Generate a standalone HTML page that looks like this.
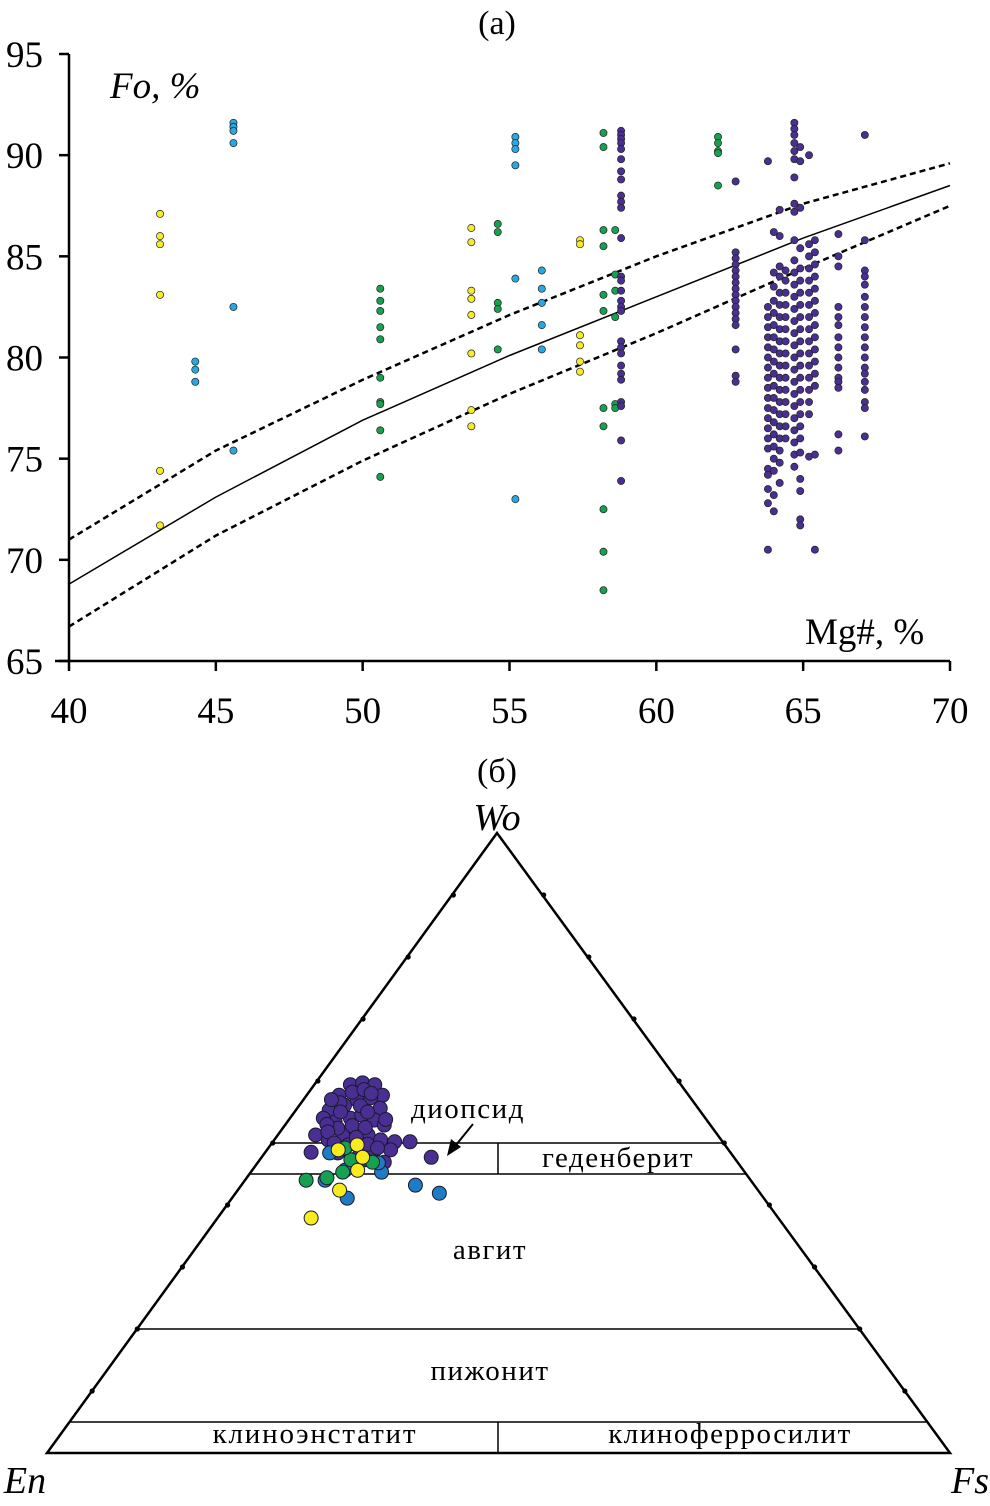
<!DOCTYPE html>
<html><head><meta charset="utf-8">
<style>
html,body{margin:0;padding:0;background:#fff;}
svg{display:block;font-family:"Liberation Serif",serif;}
</style></head>
<body>
<svg id="fig" width="990" height="1506" viewBox="0 0 990 1506" xmlns="http://www.w3.org/2000/svg">
<g id="pa"></g>
<g id="pb"></g>
</svg>
<script>
// ---------- Panel (a) data ----------
const xTicks = [40,45,50,55,60,65,70];
const yTicks = [65,70,75,80,85,90,95];
const curveX = [40,45,50,55,60,65,70];
const curveMid = [68.8,73.1,76.9,80.1,83.0,85.9,88.5];
const curveUp = [71.0,75.4,78.9,82.1,85.0,87.6,89.6];
const curveLow = [66.7,71.2,74.9,78.2,81.2,84.4,87.5];
const yellowCols = [
 {x:43.1, v:[87.1,86.0,85.6,83.1,74.4,71.7]},
 {x:53.7, v:[86.4,85.7,83.3,82.9,82.1,80.2,77.4,76.6]},
 {x:57.4, v:[85.8,85.6,81.1,80.6,79.8,79.3]}
];
const blueCols = [
 {x:44.3, v:[79.8,79.4,78.8]},
 {x:45.6, v:[91.6,91.4,91.2,90.6,82.5,75.4]},
 {x:55.2, v:[90.9,90.6,90.3,89.5,83.9,73.0]},
 {x:56.1, v:[84.3,83.4,82.7,81.6,80.4]}
];
const greenCols = [
 {x:50.6, v:[83.4,82.8,82.3,81.5,80.9,79.0,77.8,77.7,76.4,74.1]},
 {x:54.6, v:[86.6,86.2,82.7,82.4,80.4]},
 {x:58.2, v:[91.1,90.4,86.3,85.5,83.1,82.3,77.5,76.6,72.5,70.4,68.5]},
 {x:58.6, v:[86.3,84.1,83.3,82.0,77.7,77.5]},
 {x:62.1, v:[90.9,90.6,90.2,90.1,88.5]}
];
const purpleCols = [
 {x:58.8, v:[91.2,91.0,90.8,90.6,90.3,89.8,89.2,88.8,88.0,87.7,87.4,85.9,84.0,83.8,83.3,82.8,82.5,82.3,80.8,80.5,80.2,79.6,79.2,78.9,77.8,77.6,75.9,73.9]},
 {x:62.7, v:[88.7,85.2,84.9,84.6,84.3,84.0,83.7,83.4,83.1,82.8,82.5,82.2,81.9,81.6,80.4,79.1,78.8]},
 {x:63.8, v:[89.7,82.5,82.0,81.5,81.0,80.5,80.0,79.5,79.0,78.5,78.0,77.5,77.0,76.5,76.0,75.5,74.5,74.2,73.5,72.8,70.5]},
 {x:64.0, v:[86.2,84.2,83.5,82.8,82.2,81.6,81.0,80.4,79.8,79.2,78.6,78.0,77.4,76.8,76.2,75.6,75.0,74.4,73.2,72.4]},
 {x:64.2, v:[87.3,86.0,84.5,84.0,83.2,82.6,82.0,81.4,80.8,80.2,79.6,79.0,78.4,77.8,77.2,76.6,76.0,75.4,74.8,73.8]},
 {x:64.4, v:[84.3,83.8,83.2,82.6,82.0,81.4,80.8,80.2,79.6,79.0,78.4,77.8,77.2,76.6,76.0]},
 {x:64.7, v:[91.6,91.3,91.0,90.6,90.2,89.8,88.9,87.6,87.2,85.8,84.8,84.2,83.6,83.0,82.4,81.8,81.2,80.6,80.0,79.4,78.8,78.2,77.6,77.0,76.4,75.8,75.2,74.6]},
 {x:64.9, v:[90.4,89.7,87.4,85.4,84.4,83.8,83.2,82.6,82.0,81.4,80.8,80.2,79.6,79.0,78.4,77.8,77.2,76.6,76.0,75.3,74.0,73.4,72.0,71.7]},
 {x:65.2, v:[90.0,85.6,85.0,84.4,83.8,83.2,82.6,82.0,81.4,80.8,80.2,79.6,79.0,78.4,77.8,77.2,75.1]},
 {x:65.4, v:[85.8,85.2,84.6,84.0,83.4,82.8,82.2,81.6,81.0,80.4,79.8,79.2,78.6,75.2,70.5]},
 {x:66.2, v:[86.1,85.0,84.5,82.5,82.0,81.6,81.0,80.5,80.0,79.5,79.0,78.8,78.5,76.2,75.4]},
 {x:67.1, v:[91.0,85.8,84.3,84.0,83.6,83.0,82.5,82.0,81.5,81.0,80.5,80.0,79.5,79.2,78.8,78.4,77.8,77.5,76.1]}
];
// ---------- Panel (b) ternary data: [Wo, Fs] ----------
const triPurple = [[59.4,3.9],[59.7,5.1],[59.4,6.6],[57.7,8.3],[57.7,3.5],[55.3,3.6],[56.1,4.9],[56.9,5.9],[57.3,7.2],[55.6,9.1],[54.0,3.6],[53.4,5.2],[54.0,6.6],[54.5,7.6],[53.7,9.4],[52.9,10.9],[51.3,4.1],[50.5,5.9],[51.3,7.1],[52.1,8.1],[51.3,9.9],[50.5,11.7],[50.2,13.4],[50.2,15.1],[47.7,18.7],[46.9,13.9],[48.1,12.0],[48.9,10.3],[48.5,5.0],[49.7,8.5],[47.3,11.6],[48.9,13.6],[52.4,6.0],[58.2,4.7],
 [58.6,5.8],[58.0,6.9],[56.5,4.2],[56.0,6.7],[55.0,5.0],[55.0,8.0],[53.0,4.5],[52.8,7.4],[52.5,9.0],[51.8,5.2],[50.9,8.8],[49.8,10.6],[49.2,12.0],[48.4,8.0],[47.9,10.6],[50.0,6.8],[57.0,3.0],[53.8,10.6]];
const triBlue = [[48.4,7.1],[41.1,12.7],[45.3,14.4],[43.2,19.2],[41.9,22.5],[44.0,8.8],[45.6,10.2],[46.8,13.3]];
const triGreen = [[44.0,6.7],[44.4,8.8],[45.3,10.1],[46.9,12.6],[47.3,10.0],[49.2,8.4]];
const triYellow = [[37.9,10.3],[42.4,11.2],[45.6,11.6],[49.7,9.5],[47.7,11.1],[48.9,7.8]];

const NS="http://www.w3.org/2000/svg";
function mk(tag,attrs,parent){const e=document.createElementNS(NS,tag);for(const k in attrs)e.setAttribute(k,attrs[k]);parent.appendChild(e);return e;}
function txt(s,attrs,parent){const e=mk('text',attrs,parent);e.textContent=s;return e;}

// ---- Panel a ----
const pa=document.getElementById('pa');
const X0=69,X1=950,Y0=661,Y1=54;
const sx=v=>X0+(v-40)/30*(X1-X0);
const sy=v=>Y0-(v-65)/30*(Y0-Y1);
let t=txt('(a)',{x:497,y:34,'font-size':34,'text-anchor':'middle'},pa);


let ax=mk('line',{x1:55,y1:Y0,x2:X1,y2:Y0,stroke:'#000','stroke-width':2.5},pa);


let ay=mk('line',{x1:X0,y1:Y0,x2:X0,y2:Y1,stroke:'#000','stroke-width':2.5},pa);


xTicks.forEach(v=>{
  const tk=mk('line',{x1:sx(v),y1:Y0,x2:sx(v),y2:Y0+10,stroke:'#000','stroke-width':2.5},pa);
  
  
  const l=txt(String(v),{x:sx(v),y:723,'font-size':37,'text-anchor':'middle'},pa);
  
  
});
yTicks.forEach(v=>{
  const tk=mk('line',{x1:X0-10,y1:sy(v),x2:X0,y2:sy(v),stroke:'#000','stroke-width':2.5},pa);
  
  
  const l=txt(String(v),{x:43,y:sy(v)+13,'font-size':37,'text-anchor':'end'},pa);
  
  
});
t=txt('Fo, %',{x:110,y:98,'font-size':37,'font-style':'italic'},pa);


t=txt('Mg#, %',{x:805,y:644,'font-size':37},pa);


function curve(arr,dash,name){
  const d=curveX.map((x,i)=>(i?'L':'M')+sx(x).toFixed(1)+','+sy(arr[i]).toFixed(1)).join(' ');
  const p=mk('path',{d:d,fill:'none',stroke:'#000','stroke-width':dash?2.5:1.5,'stroke-dasharray':dash?'6,4':'none'},pa);
  
  
}
curve(curveMid,false,'equilibrium-curve');
curve(curveUp,true,'upper-bound-curve');
curve(curveLow,true,'lower-bound-curve');
function cols(list,color,name){
  list.forEach(c=>c.v.forEach(v=>{
    const e=mk('circle',{cx:sx(c.x),cy:sy(v),r:3.6,fill:color,stroke:'#222','stroke-width':0.7},pa);
    
    
  }));
}
cols(yellowCols,'#f6ea2a','point-yellow');
cols(blueCols,'#2aa6e0','point-blue');
cols(greenCols,'#17a050','point-green');
cols(purpleCols,'#4a2f92','point-purple');

// ---- Panel b ----
const pb=document.getElementById('pb');
const W={x:497,y:833},E={x:47,y:1453},F={x:950,y:1453};
const tx=(wo,fs)=>47+(fs+wo/2)/100*903;
const ty=(wo)=>1453-wo/100*620;
t=txt('(б)',{x:497,y:782,'font-size':34,'text-anchor':'middle'},pb);


let tri=mk('polygon',{points:`${W.x},${W.y} ${E.x},${E.y} ${F.x},${F.y}`,fill:'none',stroke:'#000','stroke-width':2.5},pb);


for(let i=1;i<10;i++){
  const wo=i*10;
  [[tx(wo,0),ty(wo)],[tx(wo,100-wo),ty(wo)]].forEach(p=>{
    const d=mk('circle',{cx:p[0],cy:p[1],r:2.6,fill:'#000'},pb);
    
    
  });
}
function hline(wo,name){
  const l=mk('line',{x1:tx(wo,0),y1:ty(wo),x2:tx(wo,100-wo),y2:ty(wo),stroke:'#000','stroke-width':1.5},pb);
  
  
}
hline(50,'diopside-boundary');hline(45,'augite-boundary');hline(20,'pigeonite-boundary');hline(5,'clino-boundary');
[[50,45],[5,0]].forEach(r=>{
  const l=mk('line',{x1:498,y1:ty(r[0]),x2:498,y2:ty(r[1]),stroke:'#000','stroke-width':1.5},pb);
  
  
});
const labels=[['Wo',497,830,38,'italic','vertex-wo',0],['En',25,1493,38,'italic','vertex-en',0],['Fs',970,1493,38,'italic','vertex-fs',0],
 ['диопсид',468,1118,29,'normal','label-diopside',1.5],['геденберит',618,1167,29,'normal','label-hedenbergite',1.5],
 ['авгит',490,1259,29,'normal','label-augite',1.5],['пижонит',490,1380,29,'normal','label-pigeonite',1.5],
 ['клиноэнстатит',315,1443,29,'normal','label-clinoenstatite',1.8],['клиноферросилит',730,1443,29,'normal','label-clinoferrosilite',1.5]];
labels.forEach(a=>{
  const e=txt(a[0],{x:a[1],y:a[2],'font-size':a[3],'font-style':a[4],'text-anchor':'middle','letter-spacing':a[6]},pb);
  
  
});
let arr=mk('line',{x1:473,y1:1124,x2:456,y2:1145,stroke:'#000','stroke-width':2},pb);


let ah=mk('polygon',{points:'447,1156 451,1139 461,1147',fill:'#000'},pb);


function tpts(list,color,name){
  list.forEach(p=>{
    const e=mk('circle',{cx:tx(p[0],p[1]),cy:ty(p[0]),r:7,fill:color,stroke:'#1a1a30','stroke-width':1},pb);
    
    
  });
}
tpts(triPurple,'#4a2f92','tern-point-purple');
tpts(triBlue,'#1f7bc4','tern-point-blue');
tpts(triGreen,'#17a050','tern-point-green');
tpts(triYellow,'#f8ec1e','tern-point-yellow');
</script>
</body></html>
